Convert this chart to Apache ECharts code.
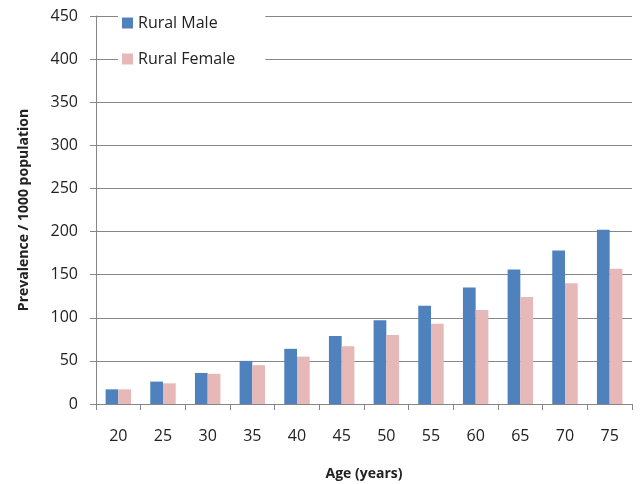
<!DOCTYPE html>
<html>
<head>
<meta charset="utf-8">
<script src="https://cdn.jsdelivr.net/npm/echarts@6/dist/echarts.min.js"></script>
<style>
html,body{margin:0;padding:0;background:#fff;}
#chart{width:643px;height:484px;}
</style>
</head>
<body>
<div id="chart"></div>
<script>
var categories = ['20','25','30','35','40','45','50','55','60','65','70','75'];
var ruralMale = [17, 26, 36, 50, 64, 79, 97, 114, 135, 156, 178, 202];
var ruralFemale = [17, 24, 35, 45, 55, 67, 80, 93, 109, 124, 140, 157];
var yTicks = {min: 0, max: 450, interval: 50};

var chart = echarts.init(document.getElementById('chart'));
var font = '"Open Sans", sans-serif';
chart.setOption({
  animation: false,
  backgroundColor: '#fff',
  grid: {left: 96, right: 11, top: 16, bottom: 80, outerBoundsMode: 'none', containLabel: false},
  legend: {
    orient: 'vertical',
    left: 118, top: 11,
    backgroundColor: '#fff',
    padding: [4, 30, 4, 4],
    itemWidth: 11, itemHeight: 11,
    itemGap: 20,
    icon: 'rect',
    textStyle: {fontFamily: font, fontSize: 16, color: '#222'},
    data: ['Rural Male', 'Rural Female']
  },
  xAxis: {
    type: 'category',
    data: categories,
    name: 'Age (years)',
    nameLocation: 'middle',
    nameGap: 63,
    nameTextStyle: {fontFamily: font, fontSize: 14, fontWeight: 'bold', color: '#222'},
    axisLine: {lineStyle: {color: '#868686'}},
    axisTick: {show: true, length: 6, alignWithLabel: false, interval: 0, lineStyle: {color: '#868686'}},
    axisLabel: {fontFamily: font, fontSize: 16, color: '#222', margin: 24, interval: 0}
  },
  yAxis: {
    type: 'value',
    min: yTicks.min, max: yTicks.max, interval: yTicks.interval,
    name: 'Prevalence / 1000 population',
    nameLocation: 'middle',
    nameGap: 65,
    nameTextStyle: {fontFamily: font, fontSize: 14, fontWeight: 'bold', color: '#222'},
    axisLine: {show: true, lineStyle: {color: '#868686'}},
    axisTick: {show: true, length: 6, lineStyle: {color: '#868686'}},
    axisLabel: {fontFamily: font, fontSize: 16, color: '#222', margin: 18},
    splitLine: {lineStyle: {color: '#868686'}}
  },
  series: [
    {name: 'Rural Male', type: 'bar', data: ruralMale, barGap: '0%', barCategoryGap: '43%', itemStyle: {color: '#4F81BD'}},
    {name: 'Rural Female', type: 'bar', data: ruralFemale, itemStyle: {color: '#E6B9B8'}}
  ]
});
</script>
</body>
</html>
